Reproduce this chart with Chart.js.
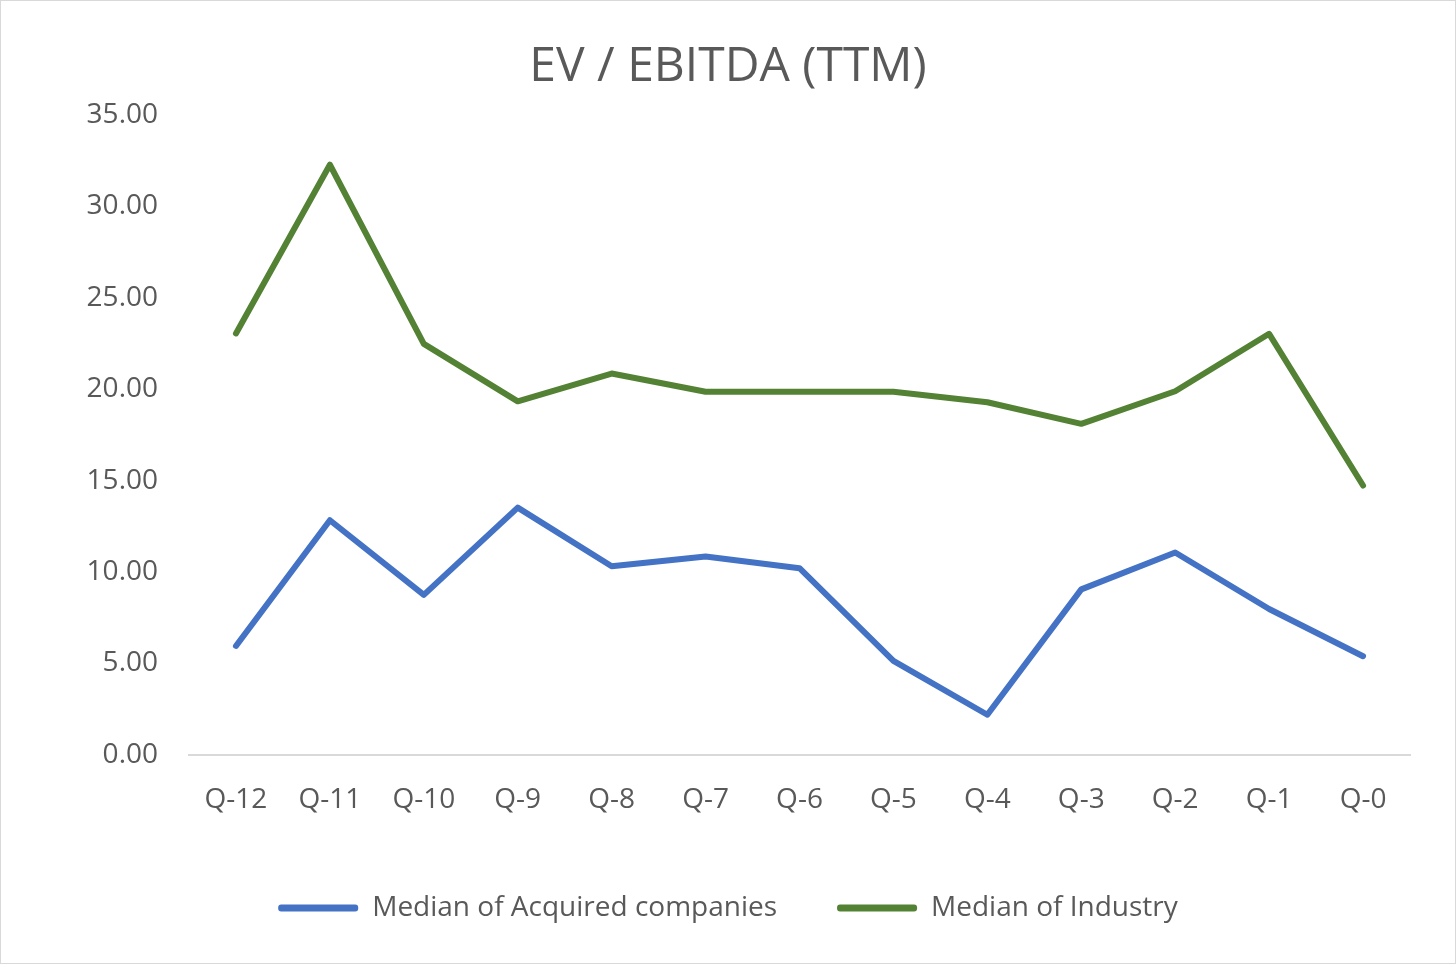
<!DOCTYPE html>
<html>
<head>
<meta charset="utf-8">
<script src="https://cdn.jsdelivr.net/npm/chart.js@4/dist/chart.umd.min.js"></script>
<style>
  html, body { margin: 0; padding: 0; background: #fff; }
  #wrap { position: relative; width: 1454px; height: 962px; border: 1px solid #d9d9d9; }
</style>
</head>
<body>
<div id="wrap"><canvas id="evChart"></canvas></div>
<script>
const quarters = ["Q-12", "Q-11", "Q-10", "Q-9", "Q-8", "Q-7", "Q-6", "Q-5", "Q-4", "Q-3", "Q-2", "Q-1", "Q-0"];
const acquiredMedian = [5.96, 12.83, 8.75, 13.52, 10.32, 10.85, 10.21, 5.14, 2.2, 9.05, 11.07, 7.98, 5.4];
const industryMedian = [23.04, 32.26, 22.47, 19.33, 20.85, 19.85, 19.85, 19.85, 19.28, 18.1, 19.88, 23.02, 14.73];
const yTicks = [0, 5, 10, 15, 20, 25, 30, 35];

const textColor = "#595959";
const fontFam = "'Open Sans', 'Liberation Sans', sans-serif";

const ctx = document.getElementById("evChart").getContext("2d");

const evChart = new Chart(ctx, {
  type: "line",
  data: {
    labels: quarters,
    datasets: [
      {
        label: "Median of Acquired companies",
        data: acquiredMedian,
        borderColor: "#4472c4",
        backgroundColor: "#4472c4",
        borderWidth: 6,
        pointRadius: 0,
        borderCapStyle: "round",
        borderJoinStyle: "round",
        tension: 0,
      },
      {
        label: "Median of Industry",
        data: industryMedian,
        borderColor: "#548235",
        backgroundColor: "#548235",
        borderWidth: 6,
        pointRadius: 0,
        borderCapStyle: "round",
        borderJoinStyle: "round",
        tension: 0,
      },
    ],
  },
  options: {
    responsive: true,
    maintainAspectRatio: false,
    animation: false,
    layout: { padding: { top: 38, right: 0, bottom: 31, left: 0 } },
    plugins: {
      title: {
        display: true,
        text: "EV / EBITDA (TTM)",
        color: textColor,
        font: { family: fontFam, size: 48, weight: "normal" },
        padding: { top: 0, bottom: 18 },
      },
      tooltip: { enabled: false },
      legend: {
        position: "bottom",
        labels: {
          color: textColor,
          font: { family: fontFam, size: 28 },
          boxWidth: 80,
          boxHeight: 7,
          useBorderRadius: true,
          borderRadius: 3,
          padding: 60,
          generateLabels: (chart) => {
            const items = Chart.defaults.plugins.legend.labels.generateLabels(chart);
            items.forEach((it) => { it.lineWidth = 0; });
            return items;
          },
        },
      },
    },
    scales: {
      x: {
        offset: true,
        grid: { display: false, drawTicks: false },
        border: { display: true, color: "#d9d9d9", width: 2 },
        ticks: { color: textColor, font: { family: fontFam, size: 28 }, padding: 28 },
        afterFit: (scale) => { scale.height = 79; },
      },
      y: {
        min: 0,
        max: 35,
        afterBuildTicks: (scale) => { scale.ticks = yTicks.map((v) => ({ value: v })); },
        grid: { display: false, drawTicks: false },
        border: { display: false },
        ticks: {
          color: textColor,
          font: { family: fontFam, size: 28 },
          padding: 31,
          callback: (v) => Number(v).toFixed(2),
        },
        afterFit: (scale) => { scale.width = 188; },
      },
      // empty right-hand gutter so the title and legend stay centred on the canvas
      yRight: {
        display: true,
        position: "right",
        min: 0,
        max: 35,
        grid: { display: false, drawTicks: false },
        border: { display: false },
        ticks: { display: false },
        afterFit: (scale) => { scale.width = 45; },
      },
    },
  },
});
</script>
</body>
</html>
